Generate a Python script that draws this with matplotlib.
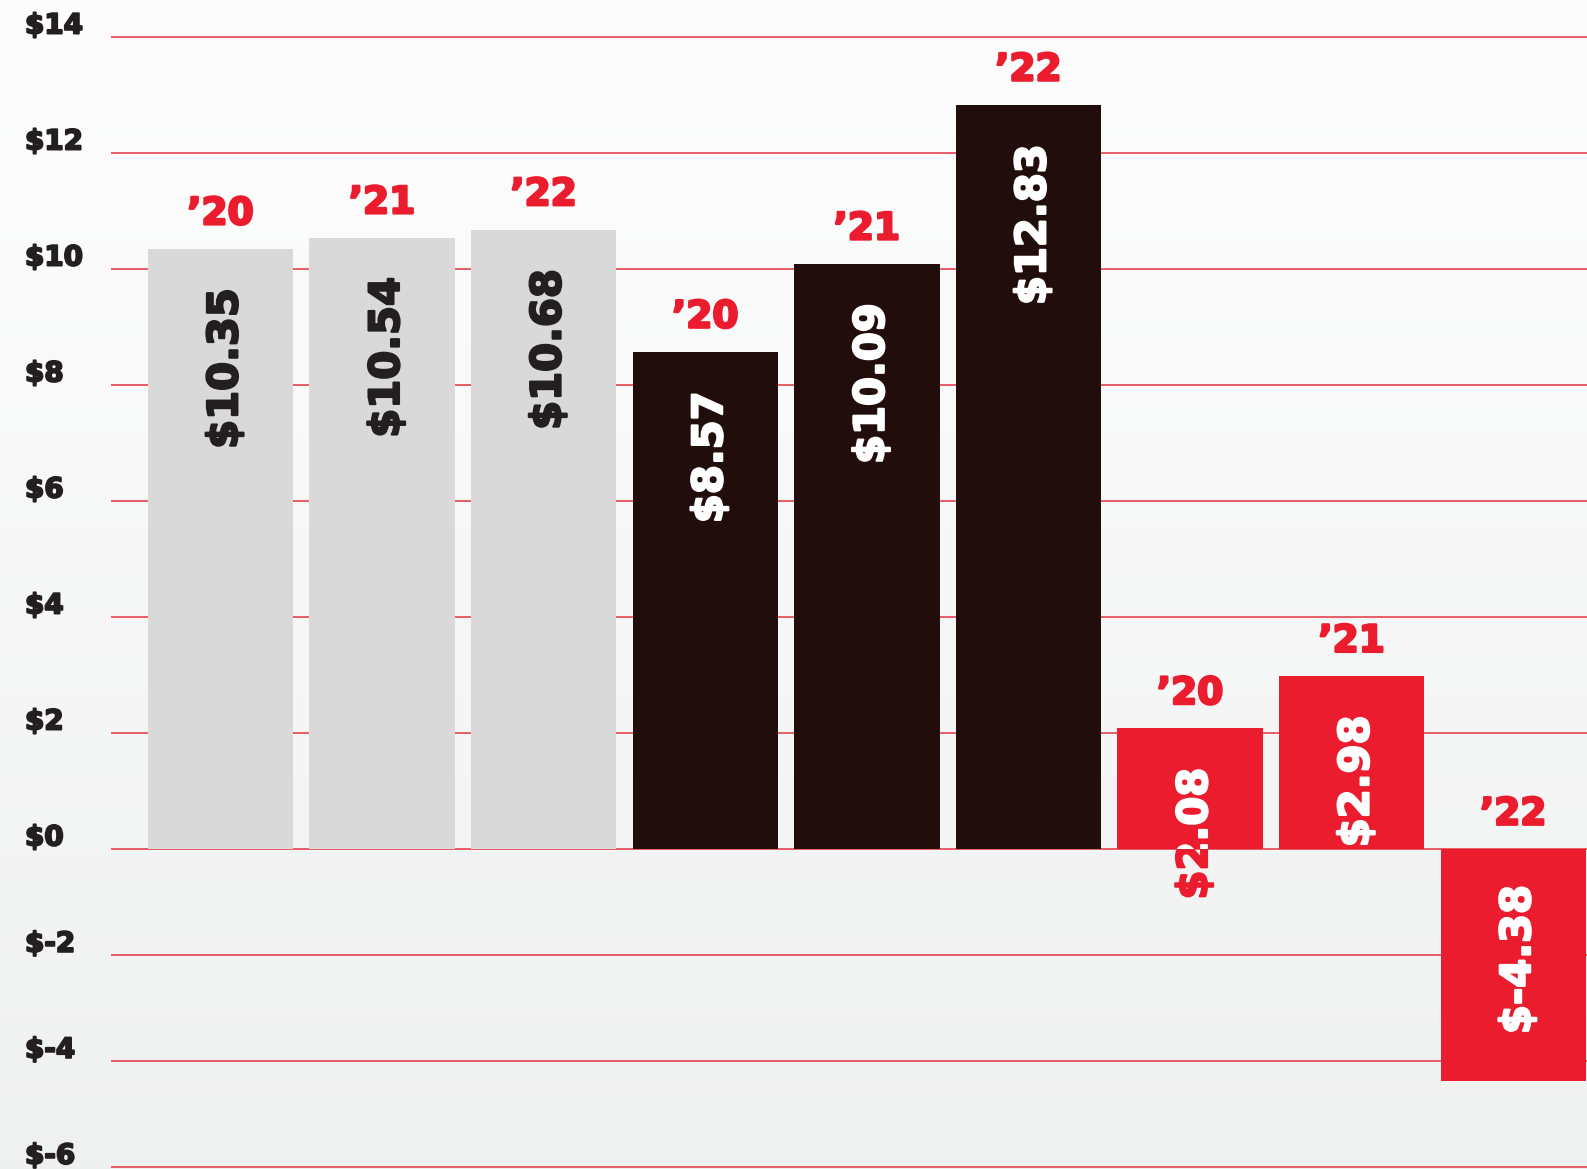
import numpy as np
import matplotlib
matplotlib.use("Agg")
import matplotlib.pyplot as plt
import matplotlib.patheffects as pe
from matplotlib.transforms import blended_transform_factory

# ---- data -------------------------------------------------------------
years = ["\u201920", "\u201921", "\u201922"] * 3
values = [10.35, 10.54, 10.68, 8.57, 10.09, 12.83, 2.08, 2.98, -4.38]
value_labels = ["$10.35", "$10.54", "$10.68", "$8.57", "$10.09", "$12.83",
                "$2.08", "$2.98", "$-4.38"]
group_of_bar = [0, 0, 0, 1, 1, 1, 2, 2, 2]
tick_values = [14, 12, 10, 8, 6, 4, 2, 0, -2, -4, -6]
tick_labels = ["$14", "$12", "$10", "$8", "$6", "$4", "$2", "$0",
               "$-2", "$-4", "$-6"]

# ---- style ------------------------------------------------------------
group_colors = ["#d9d9d9", "#210d0b", "#ea1c2e"]
label_colors = ["#231f20", "#ffffff", "#ffffff"]
red = "#ea1c2e"
grid_red = "#e8505b"
ink = "#231f20"
FONT = ["DejaVu Sans"]


def heavy(color, w=1.6):
    """Thicken glyphs with a same-coloured outline."""
    return [pe.withStroke(linewidth=w, foreground=color)]


W, H, DPI = 1587, 1169, 100
fig = plt.figure(figsize=(W / DPI, H / DPI), dpi=DPI)

# soft light-grey backdrop, whiter at the top
bg = fig.add_axes([0, 0, 1, 1], zorder=-10)
grad = np.linspace(0, 1, 256).reshape(-1, 1)
top_c = np.array([0.992, 0.992, 0.992])
bot_c = np.array([0.937, 0.941, 0.941])
img = top_c + (bot_c - top_c) * grad[..., None] ** 1.2
bg.imshow(img, aspect="auto", extent=[0, 1, 0, 1], origin="upper")
bg.set_axis_off()

# main axes: gridlines start a little in from the left edge
x0 = 111 / W
ax = fig.add_axes([x0, 0, 1 - x0, 1])
ax.patch.set_alpha(0)

# the negative part of the value axis is slightly compressed
k = 53.0 / 58.0
ax.set_yscale("function",
              functions=(lambda y: np.where(y >= 0, y, y * k),
                         lambda y: np.where(y >= 0, y, y / k)))
ax.set_ylim(-(1169 - 849) / 58.0 / k, 849 / 58.0)

n = len(values)
x = np.arange(n)
step_px = 161.6
ax.set_xlim((111 - 220.5) / step_px, (W - 220.5) / step_px)

for t in tick_values:
    ax.axhline(t, color=grid_red, lw=1.3, zorder=1)

colors = [group_colors[g] for g in group_of_bar]
bars = ax.bar(x, values, width=0.9, color=colors, zorder=2, linewidth=0)

for i, v in enumerate(values):
    top = max(v, 0)
    g = group_of_bar[i]
    ax.text(x[i], top + 0.42, years[i], ha="center", va="baseline",
            color=red, fontsize=27, fontweight="bold", family=FONT,
            zorder=3, path_effects=heavy(red, 1.8))
    kw = dict(rotation=90, rotation_mode="anchor", ha="right", va="center",
              fontsize=30, fontweight="bold", family=FONT)
    lx, ly = x[i] + 0.03, top - 0.68
    # part of the label that runs past the bar takes the bar colour
    ax.text(lx, ly, value_labels[i], color=group_colors[g], zorder=1.5,
            path_effects=heavy(group_colors[g]), **kw)
    inner = ax.text(lx, ly, value_labels[i], color=label_colors[g],
                    zorder=3, path_effects=heavy(label_colors[g]), **kw)
    inner.set_clip_path(bars[i])
    inner.set_clip_on(True)

# value-axis labels at the far left
tr = blended_transform_factory(fig.transFigure, ax.transData)
for t, lab in zip(tick_values, tick_labels):
    ax.text(25 / W, t + 0.06, lab, transform=tr, ha="left", va="baseline",
            color=ink, fontsize=20, fontweight="bold", family=FONT,
            clip_on=False, path_effects=heavy(ink, 1.4))

ax.set_xticks([])
ax.set_yticks([])
for s in ax.spines.values():
    s.set_visible(False)

fig.savefig("out.png", dpi=DPI)
